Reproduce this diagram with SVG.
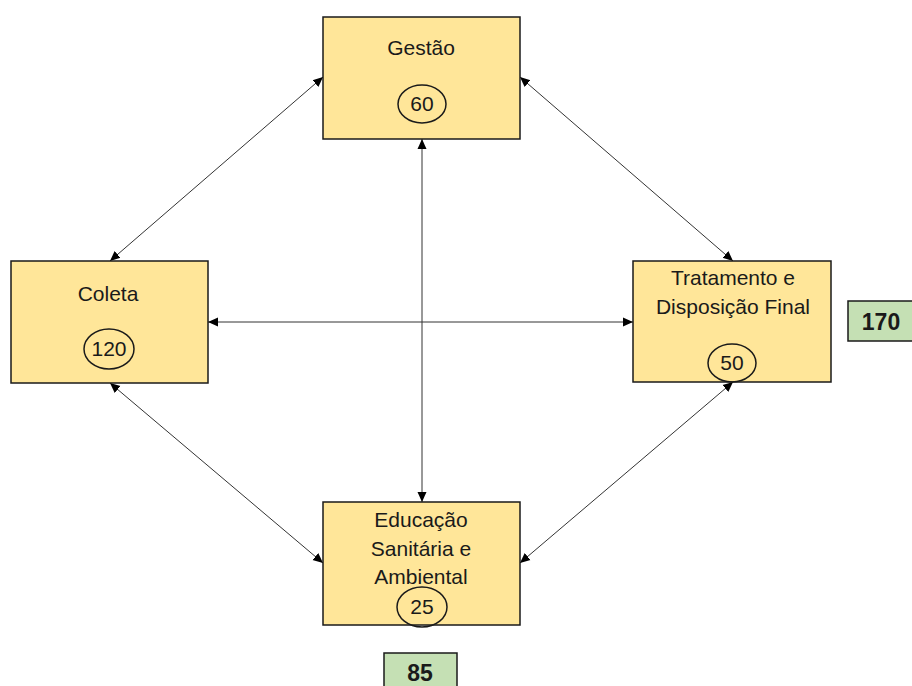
<svg xmlns="http://www.w3.org/2000/svg" width="912" height="686" viewBox="0 0 912 686">
<style>
.box{fill:#ffe699;stroke:#1a1a1a;stroke-width:1.5}
.tot{fill:#c5e0b4;stroke:#1a1a1a;stroke-width:1.5}
.ell{fill:none;stroke:#1a1a1a;stroke-width:1.5}
.t{font-family:"Liberation Sans",Arial,sans-serif;font-size:21px;fill:#1a1a1a;text-anchor:middle}
.b{font-family:"Liberation Sans",Arial,sans-serif;font-size:23px;font-weight:bold;fill:#1a1a1a;text-anchor:middle}
.c{fill:none;stroke:#333;stroke-width:1}
</style>
<defs>
<marker id="ah" viewBox="0 0 10 10" refX="10" refY="5" markerWidth="10" markerHeight="10" markerUnits="userSpaceOnUse" orient="auto-start-reverse">
<path d="M0,0.5 L10,5 L0,9.5 z" fill="#000"/>
</marker>
</defs>
<rect width="912" height="686" fill="#fff"/>
<g id="connectors">
<line class="c" x1="323" y1="77" x2="110" y2="261" marker-start="url(#ah)" marker-end="url(#ah)"/>
<line class="c" x1="520" y1="77" x2="733" y2="261" marker-start="url(#ah)" marker-end="url(#ah)"/>
<line class="c" x1="422" y1="139" x2="422" y2="502" marker-start="url(#ah)" marker-end="url(#ah)"/>
<line class="c" x1="208" y1="322" x2="633" y2="322" marker-start="url(#ah)" marker-end="url(#ah)"/>
<line class="c" x1="110" y1="383" x2="323" y2="563" marker-start="url(#ah)" marker-end="url(#ah)"/>
<line class="c" x1="733" y1="382" x2="520" y2="563" marker-start="url(#ah)" marker-end="url(#ah)"/>
</g>
<g id="gestao">
<rect class="box" x="323" y="17" width="197" height="122"/>
<text class="t" x="421" y="55">Gestão</text>
<ellipse class="ell" cx="422" cy="104" rx="24" ry="19"/>
<text class="t" x="422" y="111">60</text>
</g>
<g id="coleta">
<rect class="box" x="11" y="261" width="197" height="122"/>
<text class="t" x="108" y="301">Coleta</text>
<ellipse class="ell" cx="109" cy="349" rx="25" ry="20"/>
<text class="t" x="109" y="356">120</text>
</g>
<g id="tratamento">
<rect class="box" x="633" y="261" width="198" height="121"/>
<text class="t" x="733" y="285">Tratamento e</text>
<text class="t" x="733" y="314">Disposição Final</text>
<ellipse class="ell" cx="732" cy="363" rx="24" ry="19"/>
<text class="t" x="732" y="370">50</text>
</g>
<g id="total170">
<rect class="tot" x="848" y="301" width="66" height="40"/>
<text class="b" x="881" y="330">170</text>
</g>
<g id="educacao">
<rect class="box" x="323" y="502" width="197" height="123"/>
<text class="t" x="421" y="527">Educação</text>
<text class="t" x="421" y="556">Sanitária e</text>
<text class="t" x="421" y="584">Ambiental</text>
<ellipse class="ell" cx="422" cy="607" rx="25" ry="20"/>
<text class="t" x="422" y="614">25</text>
</g>
<g id="total85">
<rect class="tot" x="384" y="653" width="73" height="40"/>
<text class="b" x="420" y="681">85</text>
</g>
</svg>
